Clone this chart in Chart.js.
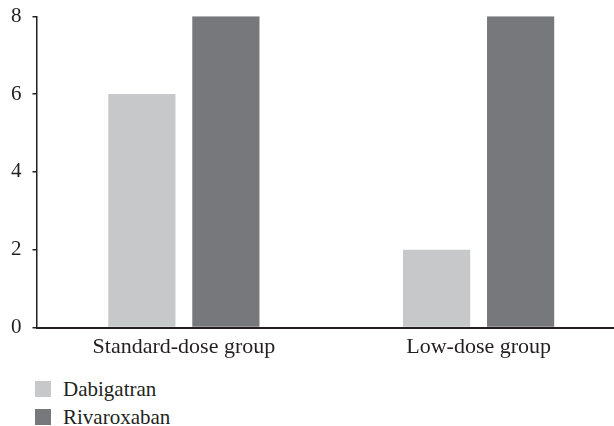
<!DOCTYPE html>
<html>
<head>
<meta charset="utf-8">
<script src="https://cdn.jsdelivr.net/npm/chart.js@4/dist/chart.umd.min.js"></script>
<style>
    html, body {
        margin: 0;
        padding: 0;
        background: #fff;
        width: 614px;
        height: 426px;
        overflow: hidden;
    }
    #wrap {
        position: absolute;
        left: 0;
        top: 0;
        width: 626px;
        height: 358px;
    }
    #legend {
        position: absolute;
        left: 35px;
        top: 375px;
        font-family: "Liberation Serif", "Times New Roman", serif;
        font-size: 21px;
        color: #231f20;
    }
    .item {
        display: flex;
        align-items: center;
        height: 28px;
    }
    .swatch {
        width: 16px;
        height: 16px;
        margin-right: 12px;
    }
</style>
</head>
<body>
<div id="wrap"><canvas id="chart" width="626" height="358"></canvas></div>
<div id="legend"></div>
<script>
const categories = ["Standard-dose group", "Low-dose group"];
const seriesNames = ["Dabigatran", "Rivaroxaban"];
const dabigatran = [6, 2];
const rivaroxaban = [8, 8];
const yTicks = [0, 2, 4, 6, 8];

const ink = "#231f20";
const colors = ["#c7c8ca", "#77787b"];
const serif = "'Liberation Serif', 'Times New Roman', serif";

const chart = new Chart(document.getElementById("chart").getContext("2d"), {
    type: "bar",
    data: {
        labels: categories,
        datasets: [dabigatran, rivaroxaban].map((values, i) => ({
            label: seriesNames[i],
            data: values,
            backgroundColor: colors[i],
            borderWidth: 0,
            categoryPercentage: 0.57,
            barPercentage: 0.8
        }))
    },
    options: {
        responsive: false,
        animation: false,
        layout: { padding: { top: 0, left: 0, right: 0, bottom: 0 } },
        plugins: {
            legend: { display: false },
            tooltip: { enabled: false }
        },
        scales: {
            x: {
                grid: { display: false },
                border: { display: true, color: ink, width: 2 },
                ticks: { color: ink, font: { family: serif, size: 22 }, padding: -2 }
            },
            y: {
                min: yTicks[0],
                max: yTicks[yTicks.length - 1],
                afterBuildTicks: axis => { axis.ticks = yTicks.map(v => ({ value: v })); },
                grid: { drawOnChartArea: false, drawTicks: true, tickLength: 4, color: ink, lineWidth: 1.5 },
                border: { display: true, color: ink, width: 1.5 },
                ticks: { color: ink, font: { family: serif, size: 21, lineHeight: 0.5 }, padding: 11 }
            }
        }
    }
});

document.getElementById("legend").innerHTML = chart.data.datasets.map(ds => `
    <div class="item"><span class="swatch" style="background:${ds.backgroundColor}"></span>${ds.label}</div>`).join("");
</script>
</body>
</html>
